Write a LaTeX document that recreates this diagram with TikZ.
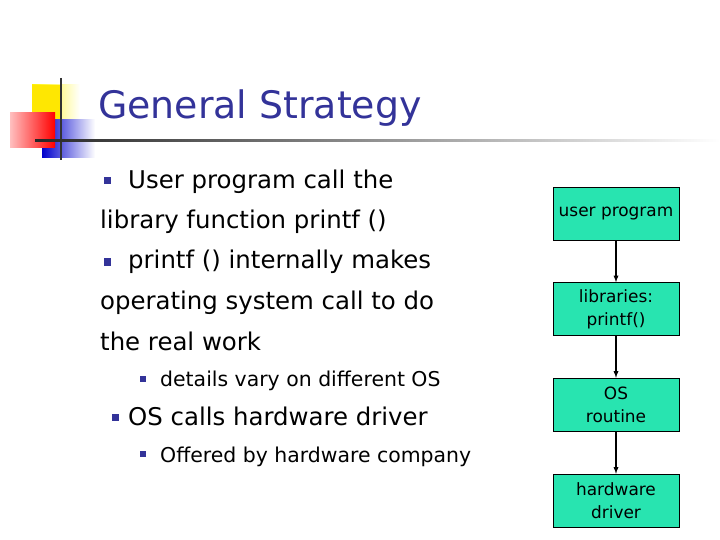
\documentclass[tikz,border=0pt]{standalone}
\usepackage{fontspec}
\setmainfont{DejaVu Sans}
\definecolor{ttl}{RGB}{51,51,153}
\definecolor{boxc}{RGB}{40,228,176}
\begin{document}
\begin{tikzpicture}[x=1bp,y=-1bp,
  body/.style={anchor=base west,inner sep=0,font=\fontsize{24.5}{28}\selectfont},
  sub/.style={anchor=base west,inner sep=0,font=\fontsize{20.5}{24}\selectfont},
  bul/.style={fill=ttl,minimum size=7bp,inner sep=0},
  sbul/.style={fill=ttl,minimum size=6bp,inner sep=0},
  flow/.style={draw=black,fill=boxc,minimum width=126bp,minimum height=53bp,align=center,font=\fontsize{17}{23}\selectfont,inner sep=1bp},
  arr/.style={draw,line width=1.3bp,-latex}]
\useasboundingbox (0,0) rectangle (720,540);
% logo
\shade[left color=yellow!90!orange,right color=white] (32,85) rectangle (80,130);
\fill[yellow!90!orange] (32,85) rectangle (62,130);
\shade[left color=blue!80!black,right color=white] (42,120) rectangle (95,158);
\shade[left color=red!25,right color=red] (10,113) rectangle (55,148);
\draw[line width=2.5bp,black!80] (61,78) -- (61,160);
\shade[left color=black!85,right color=white] (35,139.5) rectangle (720,142);
\node[anchor=base west,inner sep=0,text=ttl,font=\fontsize{38}{42}\selectfont] (title) at (98,119) {General Strategy};
% text
\node[bul] (b1) at (107,181) {};
\node[body] (t1) at (128,189) {User program call the};
\node[body] (t2) at (100,229) {library function printf ()};
\node[bul] (b2) at (107,262) {};
\node[body] (t3) at (128,269) {printf () internally makes};
\node[body] (t4) at (100,309) {operating system call to do};
\node[body] (t5) at (100,350) {the real work};
\node[sbul] (b3) at (143,379) {};
\node[sub] (t6) at (160,386) {details vary on different OS};
\node[bul] (b4) at (115,417) {};
\node[body] (t7) at (128,425) {OS calls hardware driver};
\node[sbul] (b5) at (143,454) {};
\node[sub] (t8) at (160,462) {Offered by hardware company};
% flow
\node[flow] (f1) at (616,213.5) {user program};
\node[flow] (f2) at (616,309) {libraries:\\printf()};
\node[flow] (f3) at (616,404.5) {OS\\routine};
\node[flow] (f4) at (616,500.5) {hardware\\driver};
\draw[arr] (f1) -- (f2);
\draw[arr] (f2) -- (f3);
\draw[arr] (f3) -- (f4);
\end{tikzpicture}
\end{document}
